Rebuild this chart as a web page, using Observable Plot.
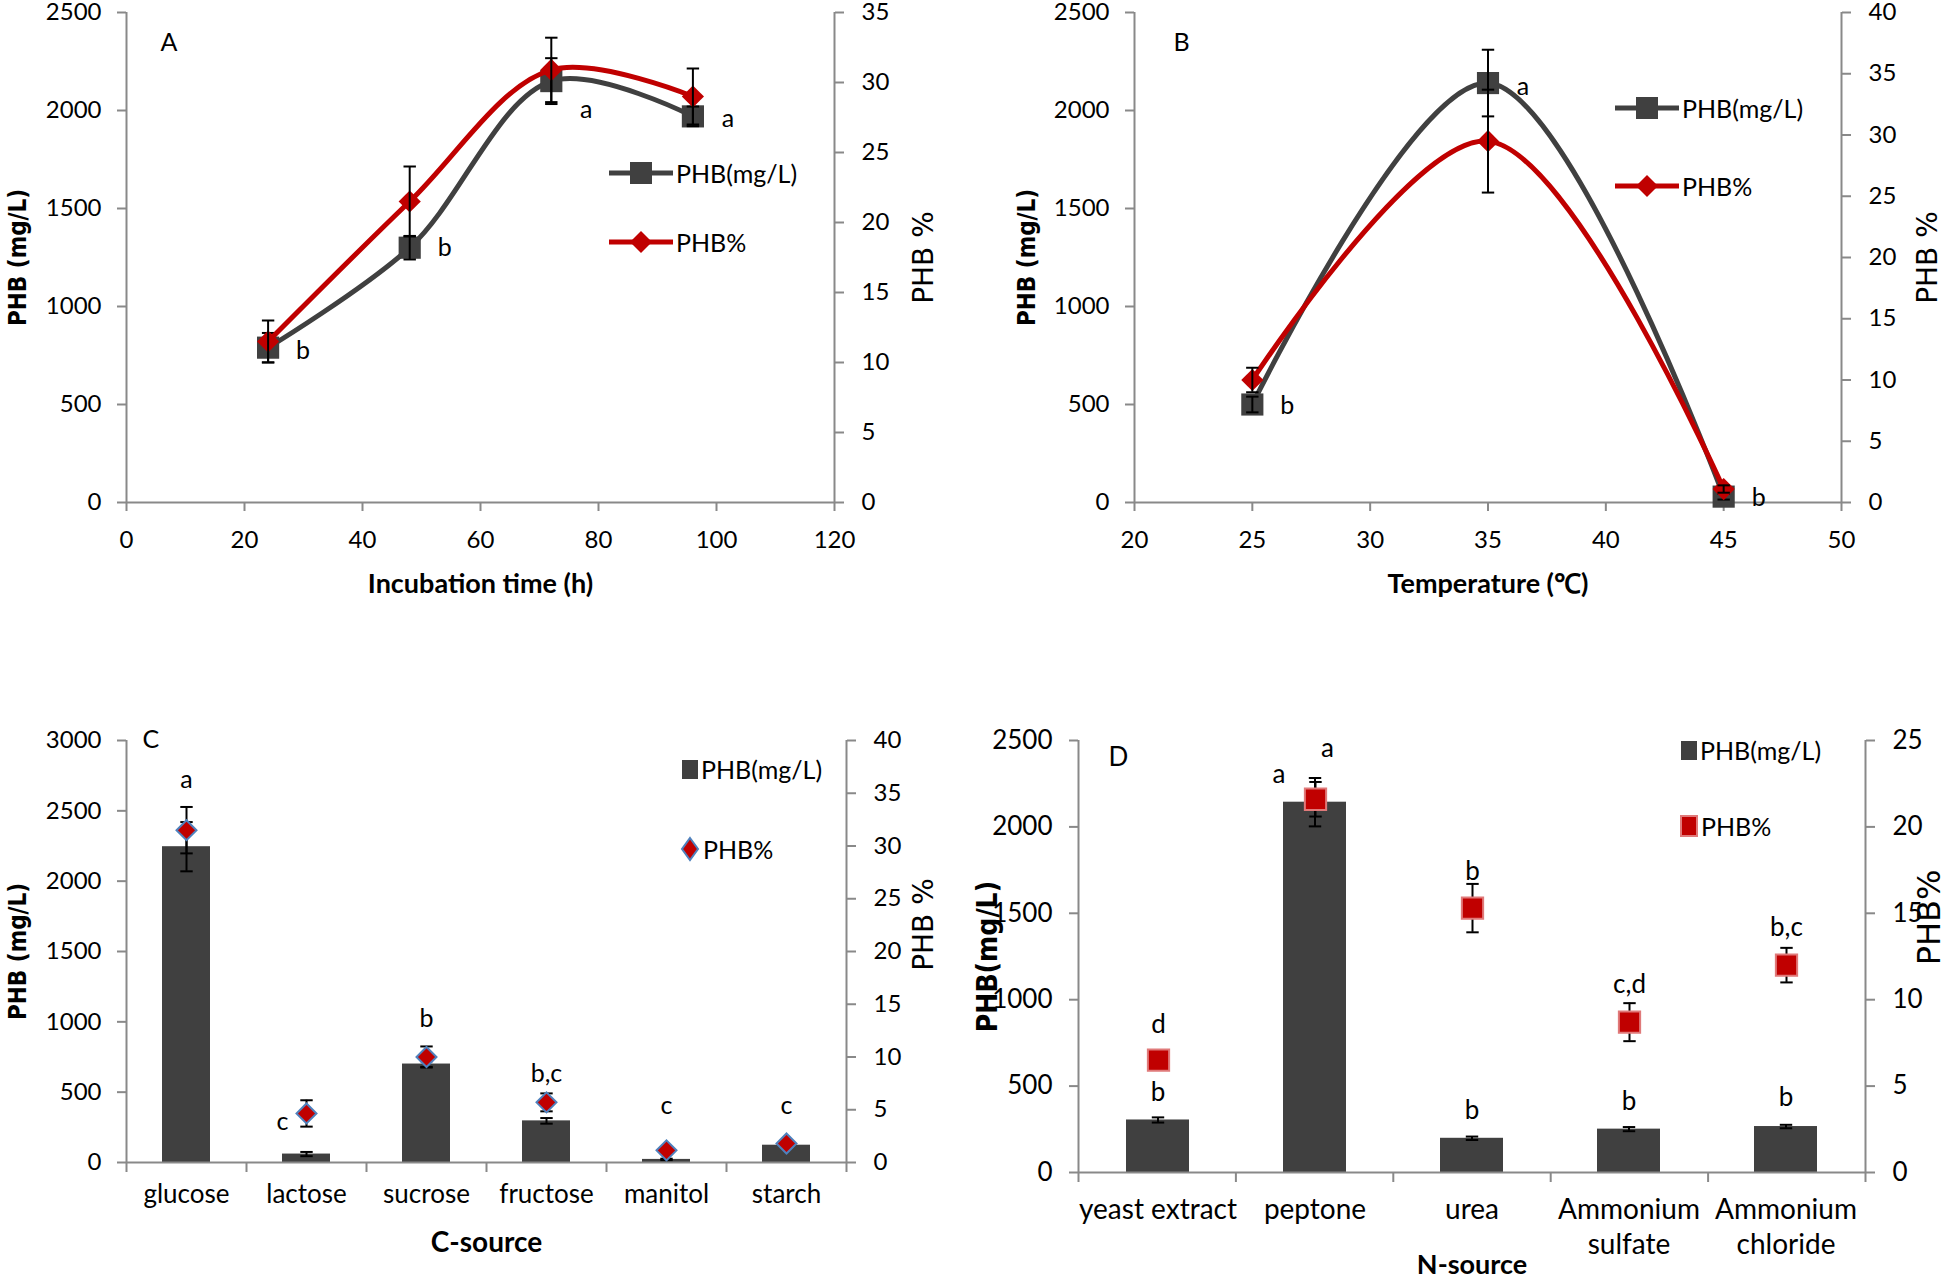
<!DOCTYPE html>
<html>
<head>
<meta charset="utf-8">
<script src="https://cdn.jsdelivr.net/npm/d3@7"></script>
<script src="https://cdn.jsdelivr.net/npm/@observablehq/plot@0.6"></script>
<style>
  body { margin: 0; background: #fff; }
  #root { position: relative; width: 1944px; height: 1277px; background: #fff; overflow: hidden;
          font-family: Lato, "Liberation Sans", sans-serif; color: #000; }
  .leg { position: absolute; display: flex; align-items: center; font-size: 25px; white-space: nowrap; height: 30px; }
  .leg svg { display: block; }
</style>
</head>
<body>
<div id="root"></div>
<script>
// ---------------- DATA ----------------
// Panel A: incubation time
const timeH = [24, 48, 72, 96];
const phbA = [790, 1300, 2150, 1970];
const phbAErr = [75, 60, 117, 50];
const pctA = [11.5, 21.5, 30.9, 29.0];
const pctAErr = [1.5, 2.5, 2.3, 2.0];
const lettersA = ["b", "b", "a", "a"];
const letterYA = [775, 1300, 2005, 1955];
const xTicksA = [0, 20, 40, 60, 80, 100, 120];
const yTicksA = [0, 500, 1000, 1500, 2000, 2500];
const pTicksA = [0, 5, 10, 15, 20, 25, 30, 35];

// Panel B: temperature
const tempC = [25, 35, 45];
const phbB = [500, 2140, 30];
const phbBErr = [40, 170, 15];
const pctB = [10.0, 29.5, 1.1];
const pctBErr = [1.0, 4.2, 0.3];
const lettersB = ["b", "a", "b"];
const letterYB = [490, 2120, 25];
const xTicksB = [20, 25, 30, 35, 40, 45, 50];
const yTicksB = [0, 500, 1000, 1500, 2000, 2500];
const pTicksB = [0, 5, 10, 15, 20, 25, 30, 35, 40];

// Panel C: carbon source
const carbon = ["glucose", "lactose", "sucrose", "fructose", "manitol", "starch"];
const phbC = [2245, 60, 700, 296, 22, 123];
const phbCErr = [175, 15, 20, 20, 5, 5];
const pctC = [31.5, 4.65, 10.0, 5.7, 1.15, 1.8];
const pctCErr = [2.2, 1.25, 1.0, 0.85, 0.15, 0.15];
const lettersC = ["a", "c", "b", "b,c", "c", "c"];
const letterYC = [2720, 288, 1020, 628, 405, 405];
const letterSideC = ["above", "left", "above", "above", "above", "above"];
const yTicksC = [0, 500, 1000, 1500, 2000, 2500, 3000];
const pTicksC = [0, 5, 10, 15, 20, 25, 30, 35, 40];

// Panel D: nitrogen source
const nitrogen = ["yeast extract", "peptone", "urea", "Ammonium\nsulfate", "Ammonium\nchloride"];
const phbD = [304, 2143, 198, 251, 266];
const phbDErr = [15, 140, 10, 12, 10];
const pctD = [6.5, 21.6, 15.3, 8.7, 12.0];
const pctDErr = [0.3, 1.0, 1.4, 1.1, 1.0];
const lettersDmg = ["b", "a", "b", "b", "b"];
const letterYDmg = [464, 2304, 357, 410, 432];
const letterSideDmg = ["above", "left", "above", "above", "above"];
const lettersDpct = ["d", "a", "b", "c,d", "b,c"];
const letterYDpct = [8.57, 24.5, 17.4, 10.87, 14.15];
const letterSideDpct = ["above", "right", "above", "above", "above"];
const yTicksD = [0, 500, 1000, 1500, 2000, 2500];
const pTicksD = [0, 5, 10, 15, 20, 25];

// ---------------- STYLE ----------------
const W = 1944, H = 1277;
const DARK = "#404040", RED = "#c00000", AX = "#898989", BLUE = "#4f81bd", PINK = "#e07a7a";
const FONT = "Lato, 'Liberation Sans', sans-serif";
const TFONT = "'DejaVu Sans Condensed', 'DejaVu Sans', sans-serif";
const RFONT = "'DejaVu Sans', sans-serif";
const FS = 24;      // tick labels
const LFS = 25;     // letters
const fmt = d3.format("d");
const CAP = {draw(ctx, size) { const w = Math.sqrt(size); ctx.moveTo(-w / 2, 0); ctx.lineTo(w / 2, 0); }};

const root = document.getElementById("root");
function add(svg) {
  svg.style.position = "absolute"; svg.style.left = "0px"; svg.style.top = "0px";
  root.appendChild(svg);
}
function frame(f, fs = FS) {
  return {width: W, height: H, marginLeft: f.l, marginRight: W - f.r, marginTop: f.t, marginBottom: H - f.b,
    style: {fontFamily: FONT, fontSize: fs + "px", background: "transparent", overflow: "visible", color: "#000", maxWidth: "none"}};
}
function errMarks(rows, x, v, e) {
  return [
    Plot.ruleX(rows, {x, y1: d => d[v] - d[e], y2: d => d[v] + d[e], stroke: "#000", strokeWidth: 2}),
    Plot.dot(rows, {x, y: d => d[v] + d[e], symbol: CAP, r: 7, fill: "none", stroke: "#000", strokeWidth: 2}),
    Plot.dot(rows, {x, y: d => d[v] - d[e], symbol: CAP, r: 7, fill: "none", stroke: "#000", strokeWidth: 2})
  ];
}
function title(text, anchor, dx, dy, opts = {}) {
  return Plot.text([text], {frameAnchor: anchor, dx, dy, textAnchor: "middle", lineAnchor: "middle", ...opts});
}
function legend(x, y, icon, text) {
  const d = document.createElement("div");
  d.className = "leg";
  d.style.left = x + "px"; d.style.top = (y - 15) + "px";
  d.innerHTML = icon + `<span style="margin-left:3px">${text}</span>`;
  root.appendChild(d);
}

// ---------------- PANEL A ----------------
const fA = {l: 126, r: 834, t: 12, b: 502};
const rowsA = timeH.map((x, i) => ({x, mg: phbA[i], mgErr: phbAErr[i], pct: pctA[i], pctErr: pctAErr[i], letter: lettersA[i], ly: letterYA[i]}));
add(Plot.plot({...frame(fA), x: {domain: [0, 120]}, y: {domain: [0, 2500]}, marks: [
  Plot.ruleY([0], {stroke: AX, strokeWidth: 2}),
  Plot.ruleX([0, 120], {stroke: AX, strokeWidth: 2}),
  Plot.axisY({ticks: yTicksA, tickFormat: fmt, tickSize: 9, tickPadding: 16, stroke: AX, strokeWidth: 2, label: null}),
  Plot.axisX({ticks: xTicksA, tickFormat: fmt, tickSize: 9, tickPadding: 19, stroke: AX, strokeWidth: 2, label: null}),
  Plot.line(rowsA, {x: "x", y: "mg", curve: "catmull-rom", stroke: DARK, strokeWidth: 5}),
  Plot.dot(rowsA, {x: "x", y: "mg", symbol: "square", r: 12.5, fill: DARK}),
  ...errMarks(rowsA, "x", "mg", "mgErr"),
  Plot.text(rowsA, {x: "x", y: "ly", text: "letter", dx: 35, fontSize: LFS}),
  Plot.text(["A"], {frameAnchor: "top-left", dx: 34, dy: 21, fontSize: LFS}),
  title("PHB (mg/L)", "left", -108, 0, {rotate: -90, fontFamily: TFONT, fontWeight: "bold", fontSize: 24}),
  title("Incubation time (h)", "bottom", 0, 82, {fontWeight: "bold", fontSize: 27})
]}));
add(Plot.plot({...frame(fA), x: {domain: [0, 120], axis: null}, y: {domain: [0, 35]}, marks: [
  Plot.axisY({anchor: "right", ticks: pTicksA, tickFormat: fmt, tickSize: 9, tickPadding: 18, stroke: AX, strokeWidth: 2, label: null}),
  Plot.line(rowsA, {x: "x", y: "pct", curve: "catmull-rom", stroke: RED, strokeWidth: 5}),
  Plot.dot(rowsA, {x: "x", y: "pct", symbol: "diamond2", r: 10, fill: RED}),
  ...errMarks(rowsA, "x", "pct", "pctErr"),
  title("PHB %", "right", 90, 0, {rotate: -90, fontFamily: RFONT, fontSize: 28})
]}));

// ---------------- PANEL B ----------------
const fB = {l: 1134, r: 1841, t: 12, b: 502};
const rowsB = tempC.map((x, i) => ({x, mg: phbB[i], mgErr: phbBErr[i], pct: pctB[i], pctErr: pctBErr[i], letter: lettersB[i], ly: letterYB[i]}));
add(Plot.plot({...frame(fB), x: {domain: [20, 50]}, y: {domain: [0, 2500]}, marks: [
  Plot.ruleY([0], {stroke: AX, strokeWidth: 2}),
  Plot.ruleX([20, 50], {stroke: AX, strokeWidth: 2}),
  Plot.axisY({ticks: yTicksB, tickFormat: fmt, tickSize: 9, tickPadding: 16, stroke: AX, strokeWidth: 2, label: null}),
  Plot.axisX({ticks: xTicksB, tickFormat: fmt, tickSize: 9, tickPadding: 19, stroke: AX, strokeWidth: 2, label: null}),
  Plot.line(rowsB, {x: "x", y: "mg", curve: "catmull-rom", stroke: DARK, strokeWidth: 5}),
  Plot.dot(rowsB, {x: "x", y: "mg", symbol: "square", r: 12.5, fill: DARK}),
  ...errMarks(rowsB, "x", "mg", "mgErr"),
  Plot.text(rowsB, {x: "x", y: "ly", text: "letter", dx: 35, fontSize: LFS}),
  Plot.text(["B"], {frameAnchor: "top-left", dx: 39, dy: 21, fontSize: LFS}),
  title("PHB (mg/L)", "left", -107, 0, {rotate: -90, fontFamily: TFONT, fontWeight: "bold", fontSize: 24}),
  title("Temperature (℃)", "bottom", 0, 82, {fontWeight: "bold", fontSize: 27})
]}));
add(Plot.plot({...frame(fB), x: {domain: [20, 50], axis: null}, y: {domain: [0, 40]}, marks: [
  Plot.axisY({anchor: "right", ticks: pTicksB, tickFormat: fmt, tickSize: 9, tickPadding: 18, stroke: AX, strokeWidth: 2, label: null}),
  Plot.line(rowsB, {x: "x", y: "pct", curve: "catmull-rom", stroke: RED, strokeWidth: 5}),
  Plot.dot(rowsB, {x: "x", y: "pct", symbol: "diamond2", r: 10, fill: RED}),
  ...errMarks(rowsB, "x", "pct", "pctErr"),
  title("PHB %", "right", 87, 0, {rotate: -90, fontFamily: RFONT, fontSize: 28})
]}));

// ---------------- PANEL C ----------------
const fC = {l: 126, r: 846, t: 740, b: 1162};
const rowsC = carbon.map((c, i) => ({c, mg: phbC[i], mgErr: phbCErr[i], pct: pctC[i], pctErr: pctCErr[i], letter: lettersC[i], ly: letterYC[i], side: letterSideC[i]}));
add(Plot.plot({...frame(fC), x: {domain: [0, carbon.length]}, y: {domain: [0, 1], axis: null}, marks: [
  Plot.ruleX([0, carbon.length], {stroke: AX, strokeWidth: 2}),
  Plot.axisX({ticks: d3.range(carbon.length + 1), tickSize: 10, tickFormat: () => "", stroke: AX, strokeWidth: 2, label: null})
]}));
add(Plot.plot({...frame(fC), x: {domain: carbon, paddingInner: 0.6, paddingOuter: 0.3}, y: {domain: [0, 3000]}, marks: [
  Plot.axisY({ticks: yTicksC, tickFormat: fmt, tickSize: 9, tickPadding: 16, stroke: AX, strokeWidth: 2, label: null}),
  Plot.axisX({tickSize: 0, tickPadding: 22, fontSize: 26, label: null}),
  Plot.barY(rowsC, {x: "c", y: "mg", fill: DARK}),
  Plot.ruleY([0], {stroke: AX, strokeWidth: 2}),
  ...errMarks(rowsC, "c", "mg", "mgErr"),
  Plot.text(rowsC.filter(d => d.side === "above"), {x: "c", y: "ly", text: "letter", fontSize: LFS}),
  Plot.text(rowsC.filter(d => d.side === "left"), {x: "c", y: "ly", text: "letter", dx: -24, fontSize: LFS}),
  Plot.text(["C"], {frameAnchor: "top-left", dx: 16, dy: -10, fontSize: LFS}),
  title("PHB (mg/L)", "left", -108, 0, {rotate: -90, fontFamily: TFONT, fontWeight: "bold", fontSize: 24}),
  title("C-source", "bottom", 0, 81, {fontWeight: "bold", fontSize: 28})
]}));
add(Plot.plot({...frame(fC), x: {domain: carbon, paddingInner: 0.6, paddingOuter: 0.3, axis: null}, y: {domain: [0, 40]}, marks: [
  Plot.axisY({anchor: "right", ticks: pTicksC, tickFormat: fmt, tickSize: 9, tickPadding: 18, stroke: AX, strokeWidth: 2, label: null}),
  ...errMarks(rowsC, "c", "pct", "pctErr"),
  Plot.dot(rowsC, {x: "c", y: "pct", symbol: "diamond2", r: 9, fill: RED, stroke: BLUE, strokeWidth: 2}),
  title("PHB %", "right", 78, -27, {rotate: -90, fontFamily: RFONT, fontSize: 28})
]}));

// ---------------- PANEL D ----------------
const fD = {l: 1078, r: 1865, t: 740, b: 1172};
const rowsD = nitrogen.map((c, i) => ({c, mg: phbD[i], mgErr: phbDErr[i], pct: pctD[i], pctErr: pctDErr[i],
  l1: lettersDmg[i], y1: letterYDmg[i], s1: letterSideDmg[i], l2: lettersDpct[i], y2: letterYDpct[i], s2: letterSideDpct[i]}));
add(Plot.plot({...frame(fD), x: {domain: [0, nitrogen.length]}, y: {domain: [0, 1], axis: null}, marks: [
  Plot.ruleX([0, nitrogen.length], {stroke: AX, strokeWidth: 2}),
  Plot.axisX({ticks: d3.range(nitrogen.length + 1), tickSize: 10, tickFormat: () => "", stroke: AX, strokeWidth: 2, label: null})
]}));
add(Plot.plot({...frame(fD, 26), x: {domain: nitrogen, paddingInner: 0.6, paddingOuter: 0.3}, y: {domain: [0, 2500]}, marks: [
  Plot.axisY({ticks: yTicksD, tickFormat: fmt, tickSize: 9, tickPadding: 17, stroke: AX, strokeWidth: 2, label: null}),
  Plot.axisX({tickSize: 0, tickPadding: 22, fontSize: 28, lineHeight: 1.25, label: null}),
  Plot.barY(rowsD, {x: "c", y: "mg", fill: DARK}),
  Plot.ruleY([0], {stroke: AX, strokeWidth: 2}),
  ...errMarks(rowsD, "c", "mg", "mgErr"),
  Plot.text(rowsD.filter(d => d.s1 === "above"), {x: "c", y: "y1", text: "l1", fontSize: 26}),
  Plot.text(rowsD.filter(d => d.s1 === "left"), {x: "c", y: "y1", text: "l1", dx: -36, fontSize: 26}),
  Plot.text(["D"], {frameAnchor: "top-left", dx: 30, dy: 7, fontSize: 26}),
  title("PHB(mg/L)", "left", -90, 0, {rotate: -90, fontFamily: TFONT, fontWeight: "bold", fontSize: 28}),
  title("N-source", "bottom", 0, 93, {fontWeight: "bold", fontSize: 27})
]}));
add(Plot.plot({...frame(fD, 26), x: {domain: nitrogen, paddingInner: 0.6, paddingOuter: 0.3, axis: null}, y: {domain: [0, 25]}, marks: [
  Plot.axisY({anchor: "right", ticks: pTicksD, tickFormat: fmt, tickSize: 9, tickPadding: 18, stroke: AX, strokeWidth: 2, label: null}),
  ...errMarks(rowsD, "c", "pct", "pctErr"),
  Plot.dot(rowsD, {x: "c", y: "pct", symbol: "square", r: 12, fill: RED, stroke: PINK, strokeWidth: 2}),
  Plot.text(rowsD.filter(d => d.s2 === "above"), {x: "c", y: "y2", text: "l2", fontSize: 26}),
  Plot.text(rowsD.filter(d => d.s2 === "right"), {x: "c", y: "y2", text: "l2", dx: 12, fontSize: 26}),
  title("PHB%", "right", 64, -39, {rotate: -90, fontFamily: RFONT, fontSize: 32})
]}));

// ---------------- LEGENDS ----------------
const iconLineSquare = `<svg width="64" height="28"><line x1="0" y1="14" x2="64" y2="14" stroke="${DARK}" stroke-width="5"/><rect x="21" y="3" width="22" height="22" fill="${DARK}"/></svg>`;
const iconLineDiamond = `<svg width="64" height="28"><line x1="0" y1="14" x2="64" y2="14" stroke="${RED}" stroke-width="5"/><path d="M32 3L43 14L32 25L21 14Z" fill="${RED}"/></svg>`;
const iconBar = `<svg width="16" height="22"><rect x="0" y="2" width="16" height="19" fill="${DARK}"/></svg>`;
const iconDiamondC = `<svg width="20" height="26"><path d="M10 2L18 13L10 24L2 13Z" fill="${RED}" stroke="${BLUE}" stroke-width="2"/></svg>`;
const iconSquareD = `<svg width="18" height="24"><rect x="1" y="2" width="16" height="20" fill="${RED}" stroke="${PINK}" stroke-width="2"/></svg>`;
legend(609, 173, iconLineSquare, "PHB(mg/L)");
legend(609, 242, iconLineDiamond, "PHB%");
legend(1615, 108, iconLineSquare, "PHB(mg/L)");
legend(1615, 186, iconLineDiamond, "PHB%");
legend(682, 769, iconBar, "PHB(mg/L)");
legend(680, 849, iconDiamondC, "PHB%");
legend(1681, 750, iconBar, "PHB(mg/L)");
legend(1680, 826, iconSquareD, "PHB%");
</script>
</body>
</html>
